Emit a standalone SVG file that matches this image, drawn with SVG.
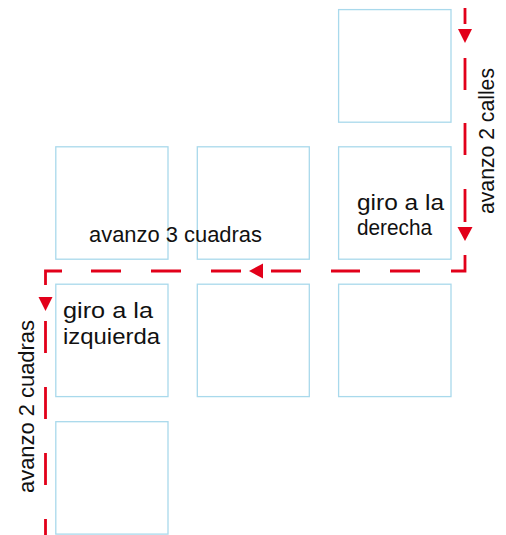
<svg xmlns="http://www.w3.org/2000/svg" width="506" height="535" viewBox="0 0 506 535">
<style>
.sq{fill:#fff;stroke:#a9d9ec;stroke-width:1.3}
.rd{stroke:#e2001a;stroke-width:2.8;fill:none}
.ah{fill:#e2001a}
.t{font-family:"Liberation Sans",Arial,sans-serif;font-size:22px;fill:#111}
</style>
<rect width="506" height="535" fill="#fff"/>
<g id="square-r0c2"><rect class="sq" x="338.6" y="9.6" width="112.4" height="112.6"/></g>
<g id="square-r1c0"><rect class="sq" x="55.8" y="146.8" width="112.2" height="112.4"/></g>
<g id="square-r1c1"><rect class="sq" x="197.3" y="146.8" width="112" height="112.4"/></g>
<g id="square-r1c2">
<rect class="sq" x="338.6" y="146.8" width="112.4" height="112.4"/>
<text class="t" x="357" y="210" textLength="87" lengthAdjust="spacingAndGlyphs">giro a la</text>
<text class="t" x="357" y="235" textLength="75" lengthAdjust="spacingAndGlyphs">derecha</text>
</g>
<g id="square-r2c0">
<rect class="sq" x="55.8" y="284.2" width="112.2" height="112.4"/>
<text class="t" x="63" y="318" textLength="90" lengthAdjust="spacingAndGlyphs">giro a la</text>
<text class="t" x="63" y="344" textLength="97" lengthAdjust="spacingAndGlyphs">izquierda</text>
</g>
<g id="square-r2c1"><rect class="sq" x="197.3" y="284.2" width="112" height="112.4"/></g>
<g id="square-r2c2"><rect class="sq" x="338.6" y="284.2" width="112.4" height="112.4"/></g>
<g id="square-r3c0"><rect class="sq" x="55.8" y="421.7" width="112.2" height="112.4"/></g>
<g id="label-avanzo3"><text class="t" x="89" y="242" textLength="173" lengthAdjust="spacingAndGlyphs">avanzo 3 cuadras</text></g>
<g id="label-avanzo2calles"><text class="t" transform="translate(494,214) rotate(-90)" x="0" y="0" textLength="146" lengthAdjust="spacingAndGlyphs">avanzo 2 calles</text></g>
<g id="label-avanzo2cuadras"><text class="t" transform="translate(34,493) rotate(-90)" x="0" y="0" textLength="173" lengthAdjust="spacingAndGlyphs">avanzo 2 cuadras</text></g>
<g id="connectors">
<path class="rd" d="M465 8V24 M465 58V90 M465 123V155 M465 189V222 M465 255V271H451 M420 271H390 M360 271H331 M301 271H271 M241 271H211 M181 271H151 M121 271H91 M62 271H45.5V285 M45.5 321V353 M45.5 387V419 M45.5 453V485 M45.5 519V535"/>
<polygon class="ah" points="458,29 472,29 465,43"/>
<polygon class="ah" points="457.5,227 472.5,227 465,241"/>
<polygon class="ah" points="263,263.5 263,278.5 249,271"/>
<polygon class="ah" points="38.5,297 52.5,297 45.5,311"/>
</g>
</svg>
